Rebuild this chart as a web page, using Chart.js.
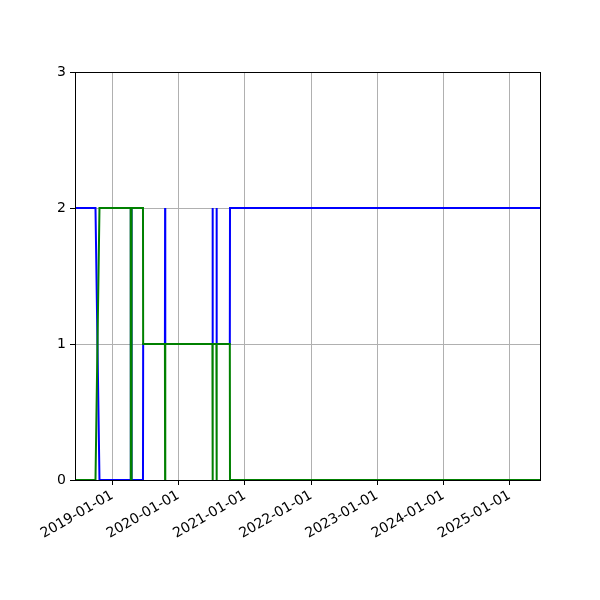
<!DOCTYPE html>
<html>
<head>
<meta charset="utf-8">
<script src="https://cdn.jsdelivr.net/npm/chart.js@4/dist/chart.umd.min.js"></script>
<style>
  html, body { margin: 0; padding: 0; background: #fff; }
  #wrap { width: 600px; height: 600px; }
</style>
</head>
<body>
<div id="wrap"><canvas id="myChart" width="600" height="600"></canvas></div>
<script>
// blue series (dates and values)
const blueDates = [
  "2018-06-09", "2018-09-30", "2018-10-22", "2019-04-12", "2019-04-13", "2019-04-16", "2019-04-17",
  "2019-06-19", "2019-06-20", "2019-10-18", "2019-10-19", "2019-10-20", "2020-07-06", "2020-07-07",
  "2020-07-08", "2020-07-28", "2020-07-29", "2020-07-30", "2020-10-10", "2020-10-11", "2025-06-17"
];
const blueValues = [2, 2, 0, 0, 2, 2, 0, 0, 1, 1, 2, 1, 1, 2, 1, 1, 2, 1, 1, 2, 2];

// green series
const greenDates = [
  "2018-06-09", "2018-09-30", "2018-10-22", "2019-04-12", "2019-04-13", "2019-04-16", "2019-04-17",
  "2019-06-19", "2019-06-20", "2019-10-18", "2019-10-19", "2019-10-20", "2020-07-06", "2020-07-07",
  "2020-07-08", "2020-07-28", "2020-07-29", "2020-07-30", "2020-10-10", "2020-10-11", "2025-06-17"
];
const greenValues = [0, 0, 2, 2, 0, 0, 2, 2, 1, 1, 0, 1, 1, 0, 1, 1, 0, 1, 1, 0, 0];

// tick labels
const xTickLabels = ["2019-01-01", "2020-01-01", "2021-01-01", "2022-01-01", "2023-01-01", "2024-01-01", "2025-01-01"];
const yTicks = [0, 1, 2, 3];

const toPoints = (dates, values) => dates.map((d, i) => ({ x: Date.parse(d), y: values[i] }));

// draw the top/right spines too
const frame = {
  id: "frame",
  afterDraw(chart) {
    const { ctx, chartArea: a } = chart;
    ctx.save();
    ctx.strokeStyle = "#000";
    ctx.lineWidth = 1;
    ctx.strokeRect(Math.round(a.left) + 0.5, Math.round(a.top) + 0.5,
      Math.round(a.right - a.left), Math.round(a.bottom - a.top));
    ctx.restore();
  }
};

Chart.defaults.font.family = "'DejaVu Sans', sans-serif";
Chart.defaults.font.size = 14;
Chart.defaults.color = "#000";

const ctx = document.getElementById("myChart").getContext("2d");
new Chart(ctx, {
  type: "line",
  data: {
    datasets: [
      {
        data: toPoints(blueDates, blueValues),
        borderColor: "#0000ff",
        borderWidth: 2,
        pointRadius: 0,
        tension: 0,
        order: 2
      },
      {
        data: toPoints(greenDates, greenValues),
        borderColor: "#008000",
        borderWidth: 2,
        pointRadius: 0,
        tension: 0,
        order: 1
      }
    ]
  },
  options: {
    responsive: false,
    animation: false,
    layout: { padding: { top: 72, right: 60, left: 0, bottom: 0 } },
    plugins: { legend: { display: false }, tooltip: { enabled: false } },
    scales: {
      x: {
        type: "linear",
        min: Date.parse(blueDates[0]),
        max: Date.parse(blueDates[blueDates.length - 1]),
        afterBuildTicks(scale) {
          scale.ticks = xTickLabels.map(d => ({ value: Date.parse(d) }));
        },
        afterFit(scale) { scale.height = 120; },
        ticks: {
          autoSkip: false,
          minRotation: 30,
          maxRotation: 30,
          padding: 2,
          callback: v => new Date(v).toISOString().slice(0, 10)
        },
        grid: { color: "#b0b0b0", lineWidth: 1, tickColor: "#000", tickLength: 5 },
        border: { color: "#000", width: 1 }
      },
      y: {
        min: 0,
        max: 3,
        afterBuildTicks(scale) {
          scale.ticks = yTicks.map(v => ({ value: v }));
        },
        afterFit(scale) { scale.width = 75; },
        ticks: { padding: 4 },
        grid: { color: "#b0b0b0", lineWidth: 1, tickColor: "#000", tickLength: 5 },
        border: { color: "#000", width: 1 }
      }
    }
  },
  plugins: [frame]
});
</script>
</body>
</html>
